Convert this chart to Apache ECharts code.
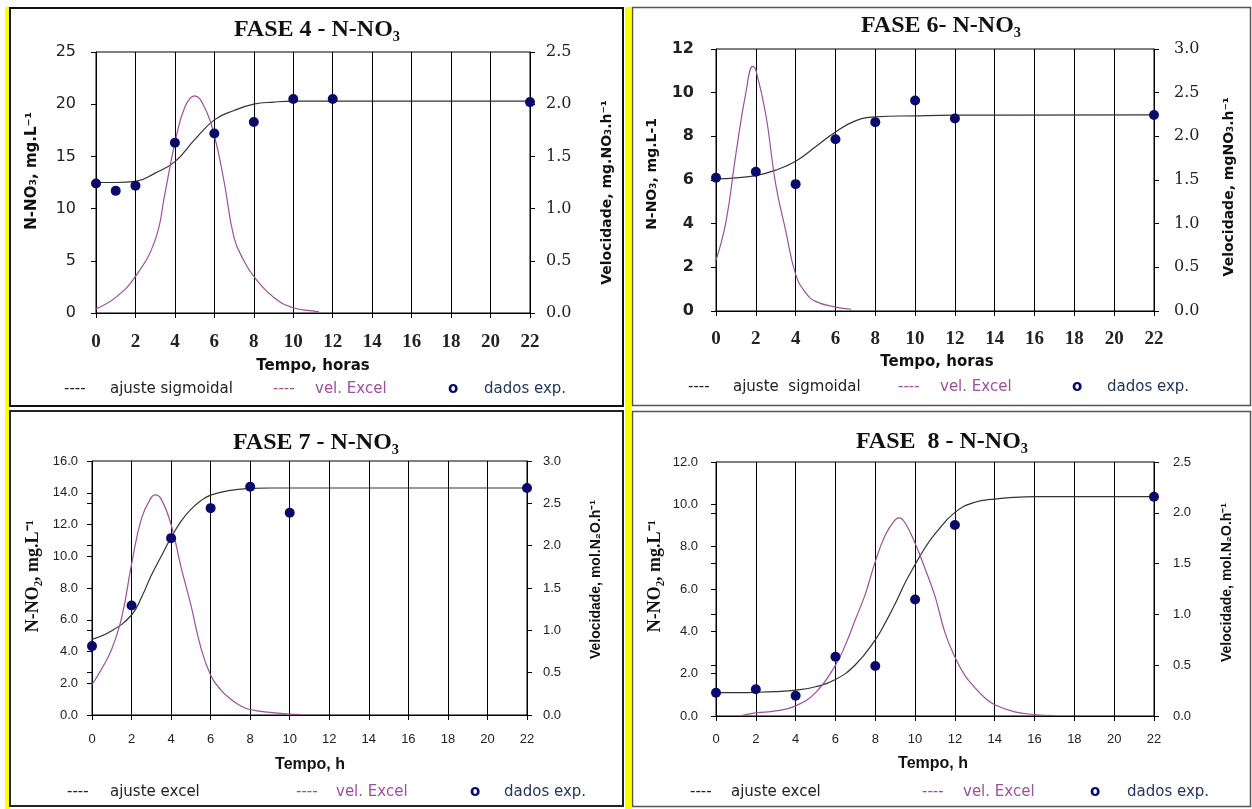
<!DOCTYPE html>
<html><head><meta charset="utf-8">
<script src="https://cdn.jsdelivr.net/npm/echarts@6/dist/echarts.min.js"></script>
<style>html,body{margin:0;padding:0;background:#fff;}#c{width:1252px;height:809px;}</style>
</head><body><div id="c"></div>
<script>
// ---------- FASE 4 ----------
const f4DataT = [0, 1, 2, 4, 6, 8, 10, 12, 22];
const f4DataY = [12.4, 11.7, 12.2, 16.3, 17.2, 18.3, 20.5, 20.5, 20.2];
const f4FitT = [0, 1, 2, 3, 4, 5, 6, 7, 8, 9, 10, 12, 22];
const f4FitY = [12.5, 12.5, 12.6, 13.4, 14.5, 16.6, 18.5, 19.4, 20.0, 20.2, 20.3, 20.3, 20.3];
const f4VelT = [0, 1, 2, 3, 3.5, 4, 4.5, 5, 5.5, 6, 6.5, 7, 7.5, 8, 9, 10, 11, 11.3];
const f4VelY = [0.04, 0.15, 0.35, 0.70, 1.15, 1.63, 1.97, 2.08, 1.97, 1.70, 1.25, 0.72, 0.50, 0.35, 0.15, 0.05, 0.02, 0.01];
// ---------- FASE 6 ----------
const f6DataT = [0, 2, 4, 6, 8, 10, 12, 22];
const f6DataY = [6.1, 6.38, 5.81, 7.87, 8.65, 9.64, 8.82, 8.98];
const f6FitT = [0, 1, 2, 3, 4, 5, 6, 7, 8, 10, 12, 22];
const f6FitY = [6.05, 6.1, 6.2, 6.45, 6.86, 7.52, 8.2, 8.71, 8.89, 8.94, 8.97, 8.98];
const f6VelT = [0, 0.5, 1, 1.5, 1.85, 2, 2.5, 3, 3.5, 4, 4.5, 5, 6, 6.8];
const f6VelY = [0.58, 1.02, 1.80, 2.50, 2.80, 2.76, 2.25, 1.45, 0.92, 0.42, 0.21, 0.11, 0.045, 0.02];
// ---------- FASE 7 ----------
const f7DataT = [0, 2, 4, 6, 8, 10, 22];
const f7DataY = [4.34, 6.9, 11.14, 13.03, 14.38, 12.74, 14.3];
const f7FitT = [0, 1, 2, 2.5, 3, 3.5, 4, 4.5, 5, 5.5, 6, 7, 8, 9, 22];
const f7FitY = [4.76, 5.3, 6.3, 7.4, 8.8, 10.0, 11.18, 12.2, 12.95, 13.5, 13.85, 14.15, 14.27, 14.3, 14.3];
const f7VelT = [0, 0.5, 1, 1.5, 2, 2.5, 3, 3.2, 3.5, 4, 4.5, 5, 5.5, 6, 6.5, 7, 7.5, 8, 9, 10, 10.6];
const f7VelY = [0.36, 0.55, 0.78, 1.15, 1.78, 2.32, 2.57, 2.60, 2.55, 2.25, 1.75, 1.30, 0.80, 0.47, 0.30, 0.19, 0.11, 0.065, 0.03, 0.01, 0.005];
// ---------- FASE 8 ----------
const f8DataT = [0, 2, 4, 6, 8, 10, 12, 22];
const f8DataY = [1.1, 1.26, 0.96, 2.8, 2.36, 5.5, 9.02, 10.36];
const f8FitT = [0, 2, 3, 4, 5, 6, 7, 8, 8.5, 9, 9.5, 10, 10.5, 11, 12, 13, 14, 15, 16, 22];
const f8FitY = [1.1, 1.12, 1.15, 1.22, 1.38, 1.72, 2.42, 3.6, 4.4, 5.3, 6.3, 7.15, 7.95, 8.6, 9.62, 10.1, 10.25, 10.33, 10.36, 10.36];
const f8VelT = [1.2, 2, 3, 4, 5, 6, 6.5, 7, 7.5, 8, 8.5, 9, 9.2, 9.5, 10, 10.5, 11, 11.5, 12, 12.5, 13, 13.5, 14, 15, 16, 17];
const f8VelY = [0, 0.03, 0.05, 0.10, 0.23, 0.50, 0.70, 0.95, 1.20, 1.52, 1.78, 1.93, 1.95, 1.90, 1.70, 1.45, 1.18, 0.82, 0.58, 0.40, 0.28, 0.18, 0.11, 0.04, 0.015, 0.004];

// ---------- texts ----------
const titles = ['FASE 4 - N-NO\u2083', 'FASE 6- N-NO\u2083', 'FASE 7 - N-NO\u2083', 'FASE  8 - N-NO\u2083'];
const leftNames = ['N-NO\u2083, mg.L\u207B\u00B9', 'N-NO\u2083, mg.L-1', 'N-NO\u2082, mg.L\u207B\u00B9', 'N-NO\u2082, mg.L\u207B\u00B9'];
const rightNames = ['Velocidade, mg.NO\u2083.h\u207B\u00B9', 'Velocidade, mgNO\u2083.h\u207B\u00B9', 'Velocidade, mol.N\u2082O.h\u207B\u00B9', 'Velocidade, mol.N\u2082O.h\u207B\u00B9'];
const xNames = ['Tempo, horas', 'Tempo, horas', 'Tempo, h', 'Tempo, h'];
const fitNames = ['ajuste sigmoidal', 'ajuste  sigmoidal', 'ajuste excel', 'ajuste excel'];
const velName = 'vel. Excel';
const dataName = 'dados exp.';
const yLeftMax = [25, 12, 16, 12];
const yLeftStep = [5, 2, 2, 2];
const yRightMax = [2.5, 3, 3, 2.5];
const yRightStep = [0.5, 0.5, 0.5, 0.5];

const zip = (a, b) => a.map((v, i) => [v, b[i]]);
const PURPLE = '#9b509b';
const NAVY = '#0a0a6a';
const LEGBLUE = '#23365c';
const SANS = '"DejaVu Sans", sans-serif';
const DSERIF = '"DejaVu Serif", serif';
const SERIF = '"Liberation Serif", "Times New Roman", serif';
const ARIAL = '"Liberation Sans", Arial, sans-serif';

const panels = [
  { grid: { left: 96, top: 52, width: 434, height: 261 }, fit: [f4FitT, f4FitY], vel: [f4VelT, f4VelY], dat: [f4DataT, f4DataY],
    xl: { fontFamily: SERIF, fontSize: 19, fontWeight: 'bold', color: '#222', margin: 20 },
    yl: { fontFamily: SANS, fontSize: 16, color: '#222', margin: 20 }, ldec: 0,
    yr: { fontFamily: DSERIF, fontSize: 16, color: '#222', margin: 16 },
    title: [317, 30], xname: [313, 366], lname: [32, 112], rname: [607, 100],
    nameFontL: 'bold 15px ' + SANS, nameFontR: 'bold 14px ' + SANS, xnameFont: 'bold 15px ' + SANS,
    leg: { y: 389, x: [64, 110, 273, 315, 448, 484] }, legFont: '15px ' + SANS },
  { grid: { left: 716, top: 49, width: 438, height: 262 }, fit: [f6FitT, f6FitY], vel: [f6VelT, f6VelY], dat: [f6DataT, f6DataY],
    xl: { fontFamily: SERIF, fontSize: 19, fontWeight: 'bold', color: '#222', margin: 19 },
    yl: { fontFamily: SANS, fontSize: 16, fontWeight: 'bold', color: '#222', margin: 22 }, ldec: 0,
    yr: { fontFamily: DSERIF, fontSize: 16, color: '#222', margin: 20 },
    title: [941, 26], xname: [937, 362], lname: [652, 118], rname: [1229, 97],
    nameFontL: 'bold 14px ' + SANS, nameFontR: 'bold 14px ' + SANS, xnameFont: 'bold 15px ' + SANS,
    leg: { y: 387, x: [688, 733, 898, 940, 1072, 1107] }, legFont: '15px ' + SANS },
  { grid: { left: 92, top: 461, width: 435, height: 254 }, fit: [f7FitT, f7FitY], vel: [f7VelT, f7VelY], dat: [f7DataT, f7DataY],
    xl: { fontFamily: ARIAL, fontSize: 13, color: '#222', margin: 18 },
    yl: { fontFamily: ARIAL, fontSize: 13, color: '#222', margin: 14 }, ldec: 1,
    yr: { fontFamily: ARIAL, fontSize: 13, color: '#222', margin: 16 },
    title: [316, 443], xname: [310, 765], lname: [33, 520], rname: [596, 500],
    nameFontL: 'bold 18px ' + SERIF, nameFontR: 'bold 14px ' + ARIAL, xnameFont: 'bold 16px ' + ARIAL,
    leg: { y: 792, x: [67, 110, 296, 336, 470, 504] }, legFont: '15px ' + SANS },
  { grid: { left: 716, top: 462, width: 438, height: 254 }, fit: [f8FitT, f8FitY], vel: [f8VelT, f8VelY], dat: [f8DataT, f8DataY],
    xl: { fontFamily: ARIAL, fontSize: 13, color: '#222', margin: 17 },
    yl: { fontFamily: ARIAL, fontSize: 13, color: '#222', margin: 18 }, ldec: 1,
    yr: { fontFamily: ARIAL, fontSize: 13, color: '#222', margin: 19 },
    title: [942, 442], xname: [933, 764], lname: [655, 520], rname: [1227, 503],
    nameFontL: 'bold 18px ' + SERIF, nameFontR: 'bold 14px ' + ARIAL, xnameFont: 'bold 16px ' + ARIAL,
    leg: { y: 792, x: [690, 731, 922, 963, 1090, 1127] }, legFont: '15px ' + SANS }
];

const grids = [], xAxes = [], yAxes = [], series = [], graphics = [];

// frames
graphics.push({ type: 'rect', silent: true, z: 1, shape: { x: 5, y: 7, width: 4, height: 802 }, style: { fill: '#ffff00' } });
graphics.push({ type: 'rect', silent: true, z: 1, shape: { x: 625, y: 7, width: 6, height: 802 }, style: { fill: '#ffff00' } });
graphics.push({ type: 'rect', silent: true, z: 2, shape: { x: 10, y: 8, width: 613, height: 398 }, style: { fill: 'none', stroke: '#111', lineWidth: 2 } });
graphics.push({ type: 'rect', silent: true, z: 2, shape: { x: 10, y: 411, width: 613, height: 395 }, style: { fill: 'none', stroke: '#222', lineWidth: 2 } });
graphics.push({ type: 'rect', silent: true, z: 2, shape: { x: 632.5, y: 7.5, width: 618, height: 398 }, style: { fill: 'none', stroke: '#555', lineWidth: 1.5 } });
graphics.push({ type: 'rect', silent: true, z: 2, shape: { x: 632.5, y: 411.5, width: 618, height: 395 }, style: { fill: 'none', stroke: '#555', lineWidth: 1.5 } });

function txt(x, y, text, font, fill, align, valign, rot) {
  return { type: 'text', silent: true, z: 50, x: x, y: y, rotation: rot || 0,
    style: { text: text, font: font, fill: fill, align: align || 'center', verticalAlign: valign || 'middle',
             textAlign: align || 'center', textVerticalAlign: valign || 'middle' } };
}

panels.forEach((p, i) => {
  grids.push(Object.assign({ show: true, borderColor: '#000', borderWidth: 1, backgroundColor: 'transparent', containLabel: false, outerBoundsMode: 'none' }, p.grid));
  const xl = Object.assign({}, p.xl);
  const xm = xl.margin; delete xl.margin;
  xAxes.push({ type: 'value', gridIndex: i, min: 0, max: 22, interval: 2,
    axisLine: { show: true, onZero: false, lineStyle: { color: '#000', width: 1 } },
    axisTick: { show: true, length: 5, lineStyle: { color: '#000' } },
    axisLabel: Object.assign({ margin: xm, showMinLabel: true, showMaxLabel: true }, xl),
    splitLine: { show: true, lineStyle: { color: '#000', width: 1 } } });
  const yl = Object.assign({}, p.yl); const ym = yl.margin; delete yl.margin;
  const yr = Object.assign({}, p.yr); const yrm = yr.margin; delete yr.margin;
  const ldec = p.ldec;
  yAxes.push({ type: 'value', gridIndex: i, position: 'left', min: 0, max: yLeftMax[i], interval: yLeftStep[i],
    axisLine: { show: true, onZero: false, lineStyle: { color: '#000', width: 1 } },
    axisTick: { show: true, length: 5, lineStyle: { color: '#000' } },
    axisLabel: Object.assign({ margin: ym, formatter: v => v.toFixed(ldec) }, yl),
    splitLine: { show: false } });
  yAxes.push({ type: 'value', gridIndex: i, position: 'right', min: 0, max: yRightMax[i], interval: yRightStep[i],
    axisLine: { show: true, onZero: false, lineStyle: { color: '#000', width: 1 } },
    axisTick: { show: true, length: 5, lineStyle: { color: '#000' } },
    axisLabel: Object.assign({ margin: yrm, formatter: v => v.toFixed(1) }, yr),
    splitLine: { show: false } });
  yAxes.push({ type: 'value', gridIndex: i, position: 'right', min: 0, max: yRightMax[i], interval: yRightStep[i],
    axisLine: { show: false }, axisTick: { show: true, inside: true, length: 5, lineStyle: { color: '#000' } },
    axisLabel: { show: false }, splitLine: { show: false } });

  series.push({ type: 'line', name: fitNames[i], xAxisIndex: i, yAxisIndex: 3 * i, data: zip(p.fit[0], p.fit[1]),
    showSymbol: false, smooth: 0.45, clip: true, silent: true,
    lineStyle: { color: '#333', width: 1.2 }, z: 3 });
  series.push({ type: 'line', name: velName, xAxisIndex: i, yAxisIndex: 3 * i + 1, data: zip(p.vel[0], p.vel[1]),
    showSymbol: false, smooth: 0.45, clip: true, silent: true,
    lineStyle: { color: PURPLE, width: 1.2 }, z: 3 });
  series.push({ type: 'scatter', name: dataName, xAxisIndex: i, yAxisIndex: 3 * i, data: zip(p.dat[0], p.dat[1]),
    symbol: 'circle', symbolSize: 10, clip: false, silent: true, itemStyle: { color: NAVY, opacity: 1 }, z: 5 });

  graphics.push(txt(p.title[0], p.title[1], titles[i], 'bold 24px ' + SERIF, '#111'));
  graphics.push(txt(p.xname[0], p.xname[1], xNames[i], p.xnameFont, '#111'));
  graphics.push(txt(p.lname[0], p.lname[1], leftNames[i], p.nameFontL, '#111', 'right', 'middle', Math.PI / 2));
  graphics.push(txt(p.rname[0], p.rname[1], rightNames[i], p.nameFontR, '#111', 'right', 'middle', Math.PI / 2));
  const L = p.leg, lx = L.x, ly = L.y;
  graphics.push(txt(lx[0], ly, '----', p.legFont, '#222', 'left'));
  graphics.push(txt(lx[1], ly, fitNames[i], p.legFont, '#222', 'left'));
  graphics.push(txt(lx[2], ly, '----', p.legFont, PURPLE, 'left'));
  graphics.push(txt(lx[3], ly, velName, p.legFont, PURPLE, 'left'));
  graphics.push(txt(lx[4], ly, 'o', 'bold 15px ' + SANS, NAVY, 'left'));
  graphics.push(txt(lx[5], ly, dataName, p.legFont, LEGBLUE, 'left'));
});

const chart = echarts.init(document.getElementById('c'), null, { renderer: 'canvas', width: 1252, height: 809 });
chart.setOption({
  backgroundColor: '#ffffff',
  animation: false,
  grid: grids, xAxis: xAxes, yAxis: yAxes, series: series,
  graphic: { elements: graphics }
});
</script></body></html>
